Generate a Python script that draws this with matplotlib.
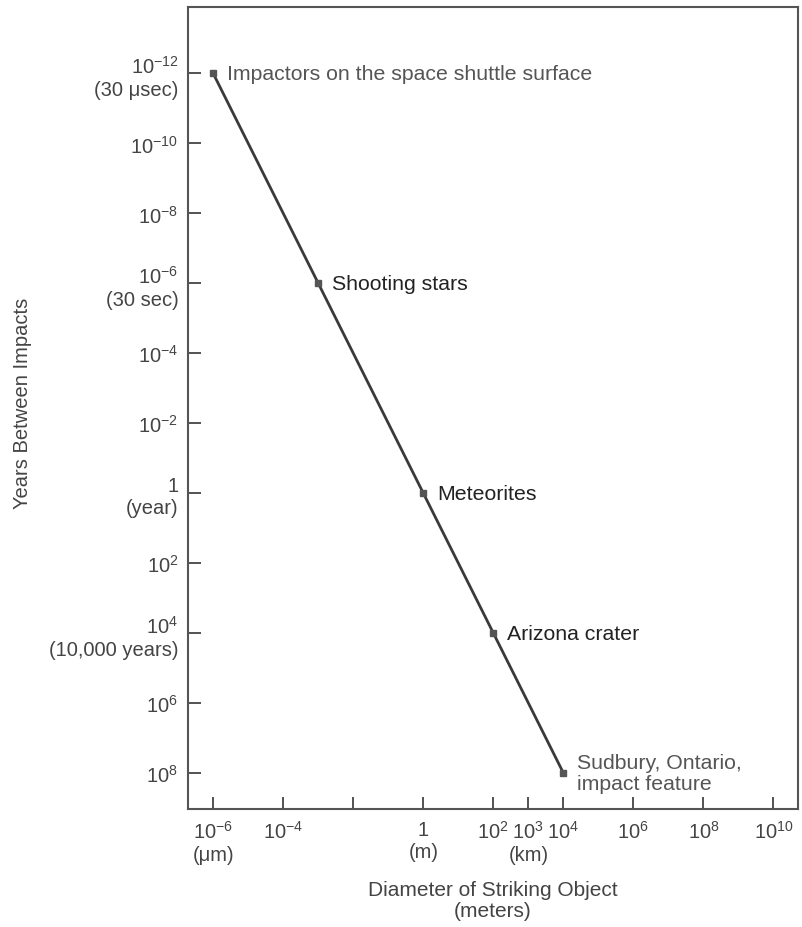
import numpy as np
import matplotlib
matplotlib.use('Agg')
import matplotlib.pyplot as plt

plt.rcParams['font.family'] = ['Liberation Sans', 'DejaVu Sans']
plt.rcParams['mathtext.fontset'] = 'custom'
plt.rcParams['mathtext.rm'] = 'Liberation Sans'
plt.rcParams['mathtext.it'] = 'Liberation Sans:italic'
plt.rcParams['mathtext.bf'] = 'Liberation Sans:bold'

# impact data (diameter in meters, years between impacts)
diameter = [1e-6, 1e-3, 1.0, 1e2, 1e4]
years = [1e-12, 1e-6, 1.0, 1e4, 1e8]
names = ['Impactors on the space shuttle surface', 'Shooting stars', 'Meteorites',
         'Arizona crater', 'Sudbury, Ontario,\nimpact feature']

xticks = [1e-6, 1e-4, 1e-2, 1.0, 1e2, 1e3, 1e4, 1e6, 1e8, 1e10]
xlabels = ['$10^{-6}$\n(\u03bcm)', '$10^{-4}$', '', '1\n(m)', '$10^2$',
           '$10^3$\n(km)', '$10^4$', '$10^6$', '$10^8$', '$10^{10}$']
yticks = [1e-12, 1e-10, 1e-8, 1e-6, 1e-4, 1e-2, 1.0, 1e2, 1e4, 1e6, 1e8]
ylabels = ['$10^{-12}$\n(30 \u03bcsec)', '$10^{-10}$', '$10^{-8}$', '$10^{-6}$\n(30 sec)',
           '$10^{-4}$', '$10^{-2}$', '1\n(year)', '$10^2$', '$10^4$\n(10,000 years)',
           '$10^6$', '$10^8$']

col = '#444444'
fig = plt.figure(figsize=(8.03, 9.28), dpi=100)
ax = fig.add_axes([188/803, 1-810/928, 610/803, 802/928])

ax.plot(diameter, years, '-', color='#3a3a3a', lw=2.0, zorder=2)
ax.plot(diameter, years, 's', color='#555555', ms=5, zorder=3)

for x, y, n in zip(diameter, years, names):
    c = '#555555' if n.startswith('Impactors') or n.startswith('Sudbury') else '#222222'
    ax.annotate(n, (x, y), xytext=(10, 0), textcoords='offset points',
                ha='left', va='center', fontsize=15.3, color=c, linespacing=1.1)

ax.set_xscale('log')
ax.set_yscale('log')
ax.set_xlim(10**-6.72, 10**10.7)
ax.set_ylim(10**9.03, 10**-13.9)

ax.set_xticks(xticks)
ax.set_xticklabels(xlabels)
ax.set_yticks(yticks)
ax.set_yticklabels(ylabels)
ax.minorticks_off()
ax.tick_params(axis='both', direction='in', length=9, width=1.3, color=col,
               labelsize=14.5, labelcolor=col)
ax.tick_params(axis='x', pad=8)
ax.tick_params(axis='y', pad=7)
for lab in ax.get_yticklabels():
    lab.set_linespacing(1.2)
for lab in ax.get_xticklabels():
    lab.set_linespacing(1.2)
    lab.set_verticalalignment('top')

for s in ax.spines.values():
    s.set_color('#555555')
    s.set_linewidth(1.5)

ax.set_ylabel('Years Between Impacts', fontsize=14.5, color=col)
ax.yaxis.label.set_verticalalignment('center')
ax.yaxis.set_label_coords(-(188-23)/610, (810-403)/802)
ax.set_xlabel('Diameter of Striking Object\n(meters)', fontsize=15, color=col,
              linespacing=1.1)
ax.xaxis.label.set_verticalalignment('center')
ax.xaxis.set_label_coords(0.5, -(901-810)/802)

fig.savefig('out.png', dpi=100)
